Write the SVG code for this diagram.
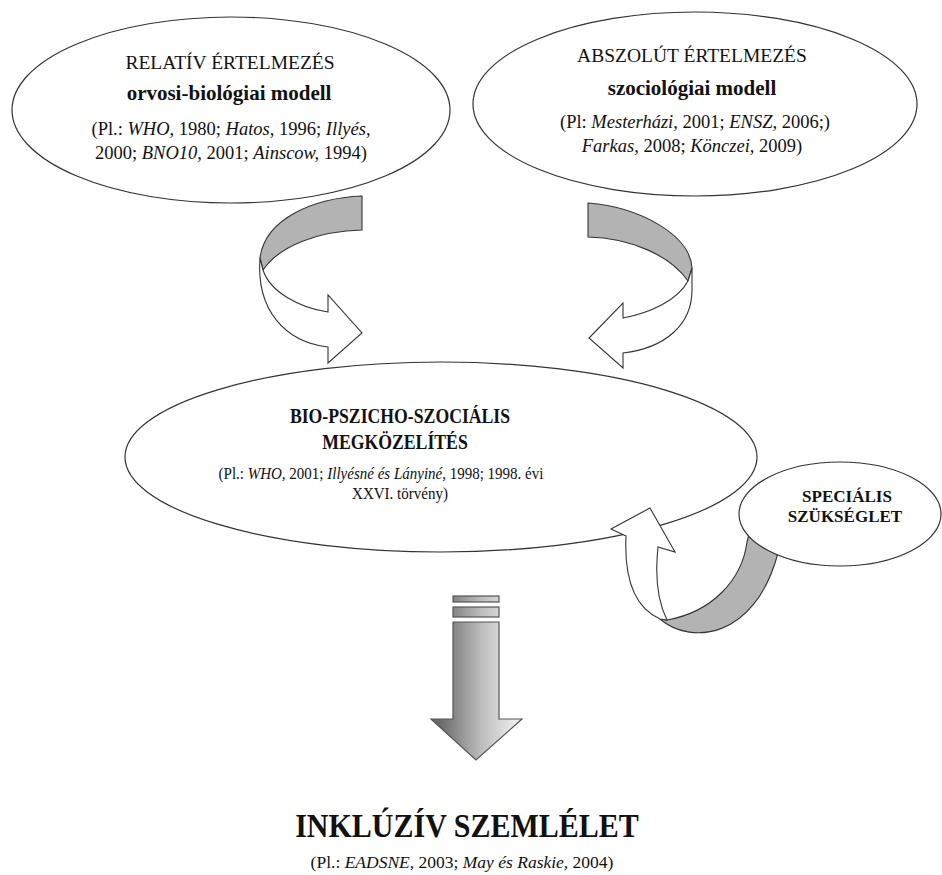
<svg xmlns="http://www.w3.org/2000/svg" width="942" height="875" viewBox="0 0 942 875">
<defs>
<style>
.ell{fill:#fff;stroke:#333;stroke-width:1.2}
.t{font-family:"Liberation Serif","Times New Roman",serif;fill:#111;text-anchor:middle}
.b{font-weight:bold}
.i{font-style:italic}
.band{fill:#b3b3b3;stroke:#333;stroke-width:1.1;stroke-linejoin:round}
.rib{fill:#fff;stroke:#333;stroke-width:1.1;stroke-linejoin:miter}
.dn{fill:url(#g);stroke:#555;stroke-width:1.2}
</style>
<linearGradient id="g" gradientUnits="userSpaceOnUse" x1="440" y1="0" x2="515" y2="0">
<stop offset="0" stop-color="#6a6a6a"/>
<stop offset="0.55" stop-color="#bdbdbd"/>
<stop offset="1" stop-color="#ececec"/>
</linearGradient>
</defs>
<rect width="942" height="875" fill="#fff"/>

<g id="relativ">
<ellipse class="ell" cx="231" cy="110" rx="219" ry="93"/>
<text class="t" x="230" y="69" font-size="19.5">RELATÍV ÉRTELMEZÉS</text>
<text class="t b" x="229" y="100" font-size="21">orvosi-biológiai modell</text>
<text class="t" x="231" y="135" font-size="18.5">(Pl.: <tspan class="i">WHO,</tspan> 1980; <tspan class="i">Hatos</tspan>, 1996; <tspan class="i">Illyés,</tspan></text>
<text class="t" x="231" y="159" font-size="18.5">2000; <tspan class="i">BNO10</tspan>, 2001; <tspan class="i">Ainscow,</tspan> 1994)</text>
</g>

<g id="abszolut">
<ellipse class="ell" cx="695" cy="104" rx="222" ry="92"/>
<text class="t" x="692" y="62" font-size="19.5">ABSZOLÚT ÉRTELMEZÉS</text>
<text class="t b" x="692" y="95" font-size="21">szociológiai modell</text>
<text class="t" x="695" y="128" font-size="18.5">(Pl: <tspan class="i">Mesterházi,</tspan> 2001; <tspan class="i">ENSZ,</tspan> 2006;)</text>
<text class="t" x="692" y="152" font-size="18.5"><tspan class="i">Farkas,</tspan> 2008; <tspan class="i">Könczei,</tspan> 2009)</text>
</g>

<g id="biopszichoszocialis">
<ellipse class="ell" cx="441" cy="457" rx="316" ry="95"/>
<text class="t b" x="400" y="423" font-size="17.7" transform="translate(0,423) scale(1,1.13) translate(0,-423)">BIO-PSZICHO-SZOCIÁLIS</text>
<text class="t b" x="395" y="449" font-size="17.7" transform="translate(0,449) scale(1,1.13) translate(0,-449)">MEGKÖZELÍTÉS</text>
<text class="t" x="381" y="479" font-size="15" transform="translate(0,479) scale(1,1.13) translate(0,-479)">(Pl.: <tspan class="i">WHO,</tspan> 2001; <tspan class="i">Illyésné és Lányiné,</tspan> 1998; 1998. évi</text>
<text class="t" x="400" y="499" font-size="15" transform="translate(0,499) scale(1,1.13) translate(0,-499)">XXVI. törvény)</text>
</g>

<g id="connectors">
<path class="band" d="M362,196 C315,198 265,218 260,258 L263,270 C280,245 320,231 362,230 Z"/>
<path class="rib" d="M263,270 C270,292 300,308 328,312 L328,295 L362,333 L328,363 L328,347 C285,342 256,310 260,258 Z"/>
<path class="band" d="M588,203 C640,207 690,235 692,268 L688,281 C670,255 630,238 588,237 Z"/>
<path class="rib" d="M688,281 L692,268 L692,290 C692,325 665,348 623,353 L623,368 L589,338 L623,303 L623,318 C650,313 678,300 688,281 Z"/>
<path class="band" d="M660,619 C690,645 755,640 778,553 L776,525 L752,522 L747,542 C742,580 712,612 667,620 Z"/>
<path class="rib" d="M626,536 L611,529 L650,508 L675,552 L658,547 C655,575 657,600 667,620 L660,619 C635,608 624,580 626,536 Z"/>
<rect class="dn" x="453" y="596" width="46" height="6"/>
<rect class="dn" x="453" y="607" width="46" height="10"/>
<path class="dn" d="M453,622 L499,622 L499,719 L522,719 L476,760 L431,719 L453,719 Z"/>
</g>

<g id="specialis">
<ellipse class="ell" cx="840" cy="514" rx="101" ry="52"/>
<text class="t b" x="847" y="502" font-size="17">SPECIÁLIS</text>
<text class="t b" x="845" y="522" font-size="17">SZÜKSÉGLET</text>
</g>

<g id="inkluziv">
<text class="t b" x="467" y="837" font-size="30" transform="translate(0,837) scale(1,1.14) translate(0,-837)">INKLÚZÍV SZEMLÉLET</text>
<text class="t" x="462" y="868" font-size="17.5">(Pl.: <tspan class="i">EADSNE,</tspan> 2003; <tspan class="i">May és Raskie,</tspan> 2004)</text>
</g>
</svg>
